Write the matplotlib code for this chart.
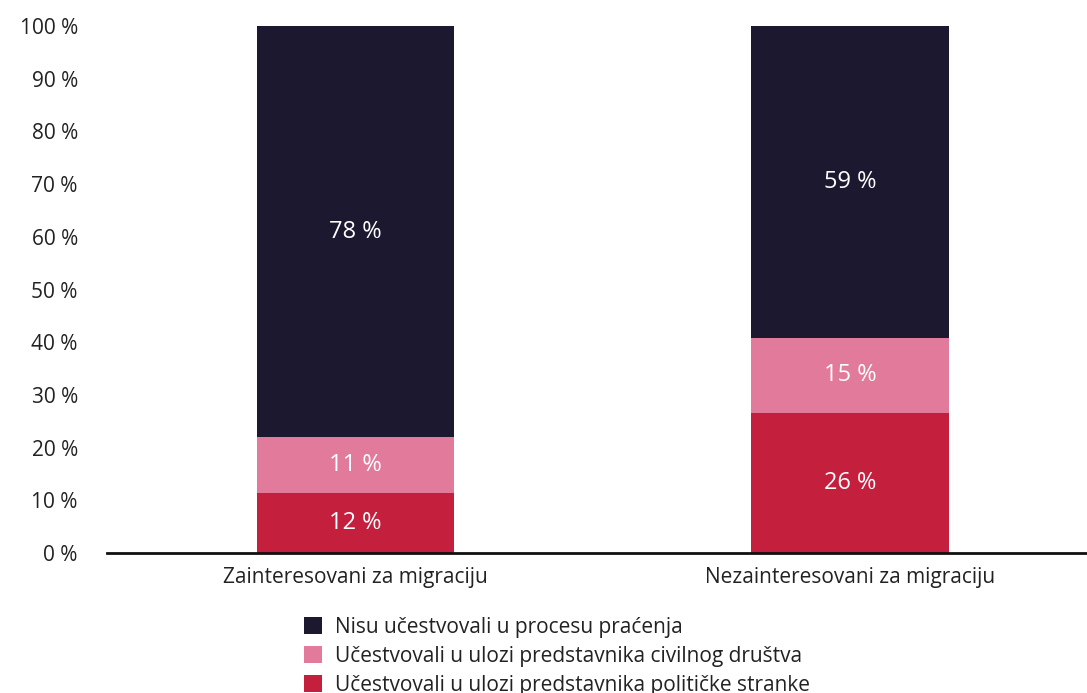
import matplotlib.pyplot as plt
import numpy as np

plt.rcParams['font.family'] = ['Open Sans', 'DejaVu Sans']

categories = ['Zainteresovani za migraciju', 'Nezainteresovani za migraciju']
stranka = [11.4, 26.6]
civilno = [10.6, 14.2]
nisu = [78.0, 59.2]
stranka_lbl = ['12 %', '26 %']
civilno_lbl = ['11 %', '15 %']
nisu_lbl = ['78 %', '59 %']
series_names = ['Nisu učestvovali u procesu praćenja',
                'Učestvovali u ulozi predstavnika civilnog društva',
                'Učestvovali u ulozi predstavnika političke stranke']
yticks = [0, 10, 20, 30, 40, 50, 60, 70, 80, 90, 100]

c_dark = '#1b1830'
c_pink = '#e17a9b'
c_red = '#c41f3d'

fig = plt.figure(figsize=(10.87, 6.93), dpi=100)
ax = fig.add_axes([107 / 1087, 1 - 553 / 693, 980 / 1087, 527 / 693])

x = np.arange(len(categories))
w = 0.40
b1 = ax.bar(x, stranka, w, color=c_red, label=series_names[2])
b2 = ax.bar(x, civilno, w, bottom=stranka, color=c_pink, label=series_names[1])
bot3 = np.array(stranka) + np.array(civilno)
b3 = ax.bar(x, nisu, w, bottom=bot3, color=c_dark, label=series_names[0])

for bars, lbls in [(b1, stranka_lbl), (b2, civilno_lbl), (b3, nisu_lbl)]:
    ax.bar_label(bars, labels=lbls, label_type='center', color='white', fontsize=17)

ax.set_xlim(-0.5025, 1.479)
ax.set_ylim(0, 100)
ax.set_yticks(yticks)
ax.set_yticklabels([f'{v} %' for v in yticks], fontsize=15, color='#222222')
ax.set_xticks(x)
ax.set_xticklabels(categories, fontsize=15, color='#222222')
ax.tick_params(axis='y', length=0, pad=21)
ax.tick_params(axis='x', length=0, pad=10)
for s in ['left', 'right', 'top']:
    ax.spines[s].set_visible(False)
ax.spines['bottom'].set_linewidth(2)
ax.spines['bottom'].set_color('#111111')

handles = [b3, b2, b1]
fig.legend(handles, series_names, loc='upper left', bbox_to_anchor=(304 / 1087, 1 - 617 / 693),
           frameon=False, fontsize=15, handlelength=0.85, handleheight=0.85,
           handletextpad=0.65, labelspacing=0.38, borderaxespad=0, borderpad=0,
           labelcolor='#222222')

fig.savefig('out.png', dpi=100)
